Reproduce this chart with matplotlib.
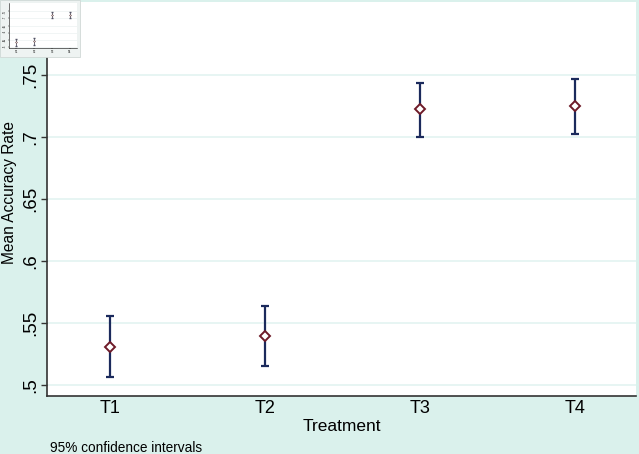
import numpy as np
import matplotlib.pyplot as plt
from matplotlib.patches import Rectangle

plt.rcParams['font.family'] = ['Liberation Sans', 'DejaVu Sans']

# data
treatments = ['T1', 'T2', 'T3', 'T4']
mean_acc = [0.531, 0.5395, 0.7223, 0.7248]
ci_low = [0.5065, 0.515, 0.7002, 0.7024]
ci_high = [0.5559, 0.564, 0.7438, 0.7468]
yticks = [0.5, 0.55, 0.6, 0.65, 0.7, 0.75]
ytick_labels = ['.5', '.55', '.6', '.65', '.7', '.75']

bg = '#daf1ec'
grid_col = '#e3f4f1'
bar_col = '#1b2a5c'
mk_col = '#6e1a28'

x = np.arange(1, len(treatments) + 1)
mean_arr = np.array(mean_acc)
yerr = [mean_arr - np.array(ci_low), np.array(ci_high) - mean_arr]

fig = plt.figure(figsize=(6.39, 4.54), dpi=100, facecolor=bg)
W, H = 639, 454
ax = fig.add_axes([47 / W, 1 - 396 / H, (636 - 47) / W, (396 - 2) / H])
ax.set_facecolor('white')

ax.errorbar(x, mean_acc, yerr=yerr, fmt='none', ecolor=bar_col,
            elinewidth=1.6, capsize=3, capthick=1.6, zorder=3)
ax.plot(x, mean_acc, linestyle='none', marker='D', markersize=5.5,
        markerfacecolor='white', markeredgecolor=mk_col, markeredgewidth=1.4, zorder=4)

ax.set_xlim(0.597, 4.39)
ax.set_ylim(0.4911, 0.809)
ax.set_xticks(x)
ax.set_xticklabels(treatments, fontsize=13)
ax.set_yticks(yticks)
ax.set_yticklabels(ytick_labels, fontsize=13.5, rotation=90, va='center')
ax.tick_params(axis='x', length=0, pad=3)
ax.tick_params(axis='y', length=4, width=1, color='#333333', pad=1.5)
ax.grid(axis='y', color=grid_col, linewidth=1.2, zorder=0)
ax.set_axisbelow(True)
for s in ['top', 'right']:
    ax.spines[s].set_visible(False)
for s in ['left', 'bottom']:
    ax.spines[s].set_color('#333333')
    ax.spines[s].set_linewidth(1.2)

ax.set_xlabel('Treatment', fontsize=12.5, labelpad=1)
ax.set_ylabel('Mean Accuracy Rate', fontsize=11.2, va='center')
ax.yaxis.set_label_coords((9 - 47) / (636 - 47), (396 - 192) / (396 - 2))
fig.text(50 / W, 1 - 448 / H, '95% confidence intervals', fontsize=9.8, va='center', ha='left')

# small thumbnail in the top-left corner
fig.patches.append(Rectangle((0, 1 - 57 / H), 80 / W, 57 / H, transform=fig.transFigure,
                             facecolor='#eef3f2', edgecolor='#d0d8d6', linewidth=0.6, zorder=5))
ins = fig.add_axes([9 / W, 1 - 48 / H, (77 - 9) / W, (48 - 3) / H], zorder=6)
ins.set_facecolor('white')
ins.errorbar(x, mean_acc, yerr=yerr, fmt='none', ecolor='#555566', elinewidth=0.6, capsize=0.8)
ins.plot(x, mean_acc, linestyle='none', marker='D', markersize=1,
         markerfacecolor='white', markeredgecolor='#664444', markeredgewidth=0.4)
ins.set_xlim(0.597, 4.39)
ins.set_ylim(0.4911, 0.809)
ins.set_xticks(x)
ins.set_yticks(yticks)
ins.set_xticklabels(treatments, fontsize=2)
ins.set_yticklabels(ytick_labels, fontsize=2, rotation=90)
ins.tick_params(length=1, width=0.3, pad=0.5)
ins.grid(axis='y', color='#e6eeee', linewidth=0.4)
for s in ['top', 'right']:
    ins.spines[s].set_visible(False)
for s in ['left', 'bottom']:
    ins.spines[s].set_linewidth(0.4)

fig.savefig('out.png', dpi=100, facecolor=bg)
